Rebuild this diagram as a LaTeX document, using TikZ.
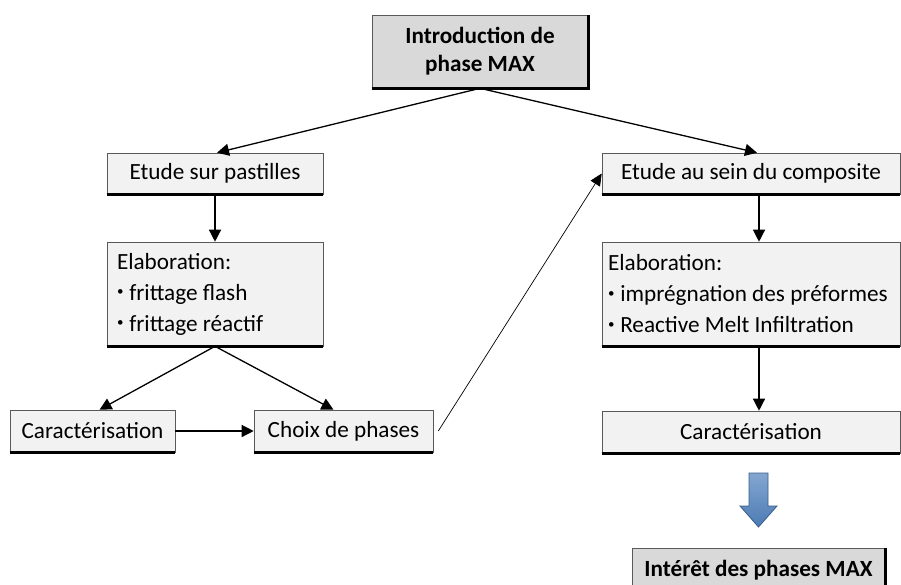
\documentclass[tikz,border=0pt]{standalone}
\usepackage{fontspec}
\setmainfont{Carlito}
\usetikzlibrary{arrows.meta}
\definecolor{boxfill}{HTML}{F2F2F2}
\definecolor{darkfill}{HTML}{D9D9D9}
\definecolor{arrowblue}{HTML}{4F81BD}
\definecolor{arrowedge}{HTML}{385D8A}
\newcommand{\blt}{\raisebox{0.18em}{\fontsize{13}{13}\selectfont\textbullet}\hspace{0.25em}}
\begin{document}
\begin{tikzpicture}[x=1pt,y=-1pt,
  box/.style={draw=black!65, line width=0.6pt, fill=boxfill, inner sep=0pt,
    font=\fontsize{23.2}{28}\selectfont, align=center},
  listbox/.style={box, align=flush left, inner xsep=10pt, text width=#1,
    font=\fontsize{23.2}{31}\selectfont},
  shadowline/.style={line width=2.4pt, black},
  conn/.style={line width=1.3pt, -{Triangle[length=12pt,width=12pt]}},
  thinconn/.style={line width=0.7pt, -{Triangle[length=12pt,width=11pt]}}]
\useasboundingbox (0,0) rectangle (901,584);

% nodes
\node[box, fill=darkfill, font=\fontsize{23.2}{28}\bfseries\selectfont,
  minimum width=216pt, minimum height=73pt] (intro) at (480,51.5) {Introduction de\\phase MAX};
\node[box, minimum width=216pt, minimum height=41pt] (esp) at (215,173.5) {Etude sur pastilles};
\node[listbox=196pt, minimum width=216pt, minimum height=104pt] (elab) at (215,294)
  {Elaboration:\\\blt frittage flash\\\blt frittage réactif};
\node[box, minimum width=165pt, minimum height=42pt] (car) at (92.5,431) {Caractérisation};
\node[box, minimum width=179pt, minimum height=42pt] (cho) at (343.5,431) {Choix de phases};

\node[box, minimum width=298pt, minimum height=41pt] (esc) at (751,173.5) {Etude au sein du composite};
\node[listbox=286pt, inner xsep=6pt, minimum width=298pt, minimum height=104pt] (elabr) at (751,294)
  {Elaboration:\\\blt imprégnation des préformes\\\blt Reactive Melt Infiltration};
\node[box, minimum width=298pt, minimum height=42pt] (carr) at (751,432) {Caractérisation};
\node[box, fill=darkfill, font=\fontsize{23.2}{28}\bfseries\selectfont,
  minimum width=253pt, minimum height=44pt] (inter) at (758.5,570) {Intérêt des phases MAX};

% heavy bottom/right edges (shadow look)
\foreach \n in {intro,inter}{
  \draw[shadowline] (\n.south west) -- (\n.south east) -- (\n.north east);
}
\foreach \n in {esp,elab,car,cho,esc,elabr,carr}{
  \draw[shadowline] (\n.south west) -- (\n.south east);
}

% blue block arrow
\path[draw=arrowedge, line width=0.8pt, top color=arrowblue!70!white, bottom color=arrowblue!95!black]
  (749,473) -- (768,473) -- (768,506) -- (777,506) -- (758.5,527) -- (740,506) -- (749,506) -- cycle;

% connectors
\draw[conn] (intro.south) -- ([xshift=2pt]esp.north);
\draw[conn] (intro.south) -- ([xshift=6pt]esc.north);
\draw[conn] (esp.south) -- (elab.north);
\draw[conn] (elab.south) -- ([xshift=7pt]car.north);
\draw[conn] (elab.south) -- ([xshift=-10pt]cho.north);
\draw[conn] (car.east) -- (cho.west);
\draw[thinconn] ([xshift=5pt]cho.east) -- (esc.west);
\draw[conn] ([xshift=8pt]esc.south) -- ([xshift=8pt]elabr.north);
\draw[conn] ([xshift=8pt]elabr.south) -- ([xshift=8pt]carr.north);
\end{tikzpicture}
\end{document}
